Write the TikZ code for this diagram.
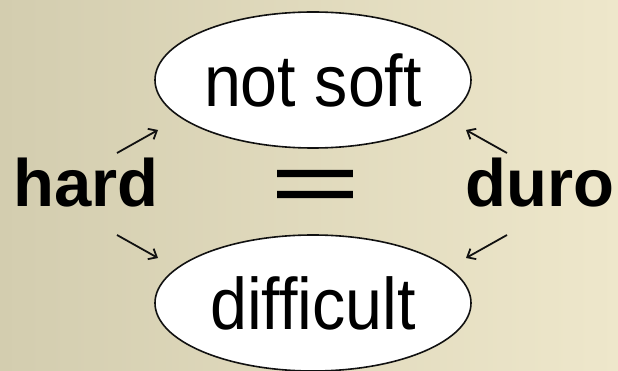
\documentclass[tikz,border=0pt]{standalone}
\usepackage{fontspec}
\setmainfont{Liberation Sans}
\newfontfamily\meaningfont[FakeStretch=0.91]{Liberation Sans}
\newfontfamily\equalfont[FakeBold=1.5]{Liberation Sans}
\usetikzlibrary{shapes.geometric,arrows.meta}
\definecolor{WordBgLeft}{HTML}{D3CDAF}
\definecolor{WordBgRight}{HTML}{EEE7CB}
\definecolor{WordLine}{HTML}{111111}

\begin{document}
\begin{tikzpicture}[x=1pt,y=-1pt,
    meaning/.style={draw=WordLine,line width=1.6pt,fill=white,ellipse,minimum width=316pt,minimum height=136pt,inner sep=0pt,font=\fontsize{73}{73}\meaningfont},
    word/.style={anchor=base,inner sep=0pt,font=\fontsize{67}{67}\selectfont\bfseries},
    link/.style={draw=WordLine,line width=1.8pt,-{Straight Barb[length=7pt,width=12pt]}}]
      \shade[left color=WordBgLeft,right color=WordBgRight] (0,0) rectangle (618,371);
      \useasboundingbox (0,0) rectangle (618,371);
      \node[meaning] (notsoft) at (313,80) {not soft};
      \node[meaning] (difficult) at (313,303) {difficult};
      \node[word] (hard) at (86,207) {hard};
      \node[word] (duro) at (540,207) {duro};
      \node[inner sep=0pt,xscale=1.8,font=\fontsize{84}{84}\equalfont] (equal) at (315,191) {=};
      \coordinate (hardup) at (117,153);
      \coordinate (hardupend) at (158,130);
      \coordinate (harddown) at (117,235);
      \coordinate (harddownend) at (158,258);
      \coordinate (duroup) at (507,153);
      \coordinate (duroupend) at (466,130);
      \coordinate (durodown) at (507,235);
      \coordinate (durodownend) at (466,258);
      \draw[link] (hardup) -- (hardupend);
      \draw[link] (harddown) -- (harddownend);
      \draw[link] (duroup) -- (duroupend);
      \draw[link] (durodown) -- (durodownend);
    \end{tikzpicture}
\end{document}
